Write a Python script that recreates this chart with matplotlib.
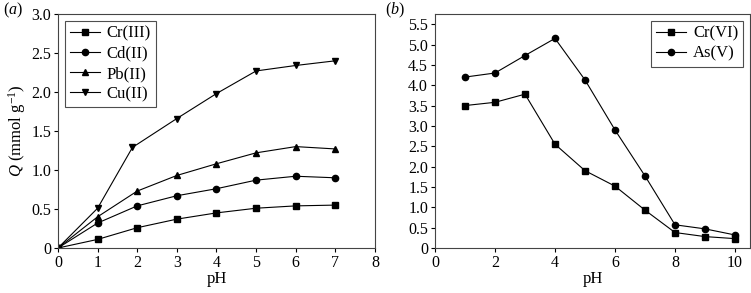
import matplotlib.pyplot as plt

plt.rcParams['font.family'] = ['Liberation Serif', 'DejaVu Serif']
plt.rcParams['mathtext.fontset'] = 'custom'
plt.rcParams['mathtext.rm'] = 'Liberation Serif'
plt.rcParams['mathtext.it'] = 'Liberation Serif:italic'

# (a) cations
ph_a = [0, 1, 2, 3, 4, 5, 6, 7]
ph_cu = [0, 1, 1.88, 3, 4, 5, 6, 7]
cr3 = [0, 0.11, 0.26, 0.37, 0.45, 0.51, 0.54, 0.55]
cd2 = [0, 0.32, 0.54, 0.67, 0.76, 0.87, 0.92, 0.90]
pb2 = [0, 0.40, 0.73, 0.93, 1.08, 1.22, 1.30, 1.27]
cu2 = [0, 0.51, 1.29, 1.66, 1.98, 2.27, 2.34, 2.40]

# (b) anions
ph_b = [1, 2, 3, 4, 5, 6, 7, 8, 9, 10]
cr6 = [3.50, 3.58, 3.78, 2.55, 1.90, 1.52, 0.93, 0.38, 0.28, 0.23]
as5 = [4.20, 4.30, 4.73, 5.15, 4.13, 2.90, 1.77, 0.57, 0.47, 0.32]

fig = plt.figure(figsize=(7.51, 2.93), dpi=100)
ax1 = fig.add_axes([0.0772, 0.1536, 0.4221, 0.7986])
ax2 = fig.add_axes([0.5792, 0.1536, 0.4195, 0.7986])

kw = dict(color='black', lw=0.8, ms=4.5)
ax1.plot(ph_a, cr3, marker='s', label='Cr(III)', **kw)
ax1.plot(ph_a, cd2, marker='o', label='Cd(II)', **kw)
ax1.plot(ph_a, pb2, marker='^', label='Pb(II)', **kw)
ax1.plot(ph_cu, cu2, marker='v', label='Cu(II)', **kw)
ax1.set_xlim(0, 8)
ax1.set_ylim(0, 3.0)
ax1.set_xticks(range(0, 9))
ax1.set_yticks([0, 0.5, 1.0, 1.5, 2.0, 2.5, 3.0])
ax1.set_yticklabels(['0', '0.5', '1.0', '1.5', '2.0', '2.5', '3.0'])
ax1.set_xlabel('pH', fontsize=12, labelpad=0)
ax1.set_ylabel(r'$Q$ (mmol g$^{-1}$)', fontsize=12, labelpad=2)

ax2.plot(ph_b, cr6, marker='s', label='Cr(VI)', **kw)
ax2.plot(ph_b, as5, marker='o', label='As(V)', **kw)
ax2.set_xlim(0, 10.5)
ax2.set_ylim(0, 5.75)
ax2.set_xticks(range(0, 11, 2))
yt = [0, 0.5, 1.0, 1.5, 2.0, 2.5, 3.0, 3.5, 4.0, 4.5, 5.0, 5.5]
ax2.set_yticks(yt)
ax2.set_yticklabels(['0'] + ['%.1f' % v for v in yt[1:]])
ax2.set_xlabel('pH', fontsize=12, labelpad=0)

for ax in (ax1, ax2):
    ax.tick_params(direction='out', length=3, width=0.8, labelsize=11.5, pad=2,
                   top=False, right=False)
    for s in ax.spines.values():
        s.set_linewidth(0.8)
        s.set_color('#444444')
    leg = ax.legend(loc='upper left' if ax is ax1 else 'upper right',
                    fontsize=12, frameon=True, fancybox=False,
                    edgecolor='#222222', handlelength=1.8, handletextpad=0.4,
                    labelspacing=0.25, borderpad=0.3, borderaxespad=0.4)
    leg.get_frame().set_linewidth(0.8)

fig.text(0.004, 0.965, r'($a$)', fontsize=11.5, va='center')
fig.text(0.512, 0.965, r'($b$)', fontsize=11.5, va='center')

fig.savefig('out.png', dpi=100)
